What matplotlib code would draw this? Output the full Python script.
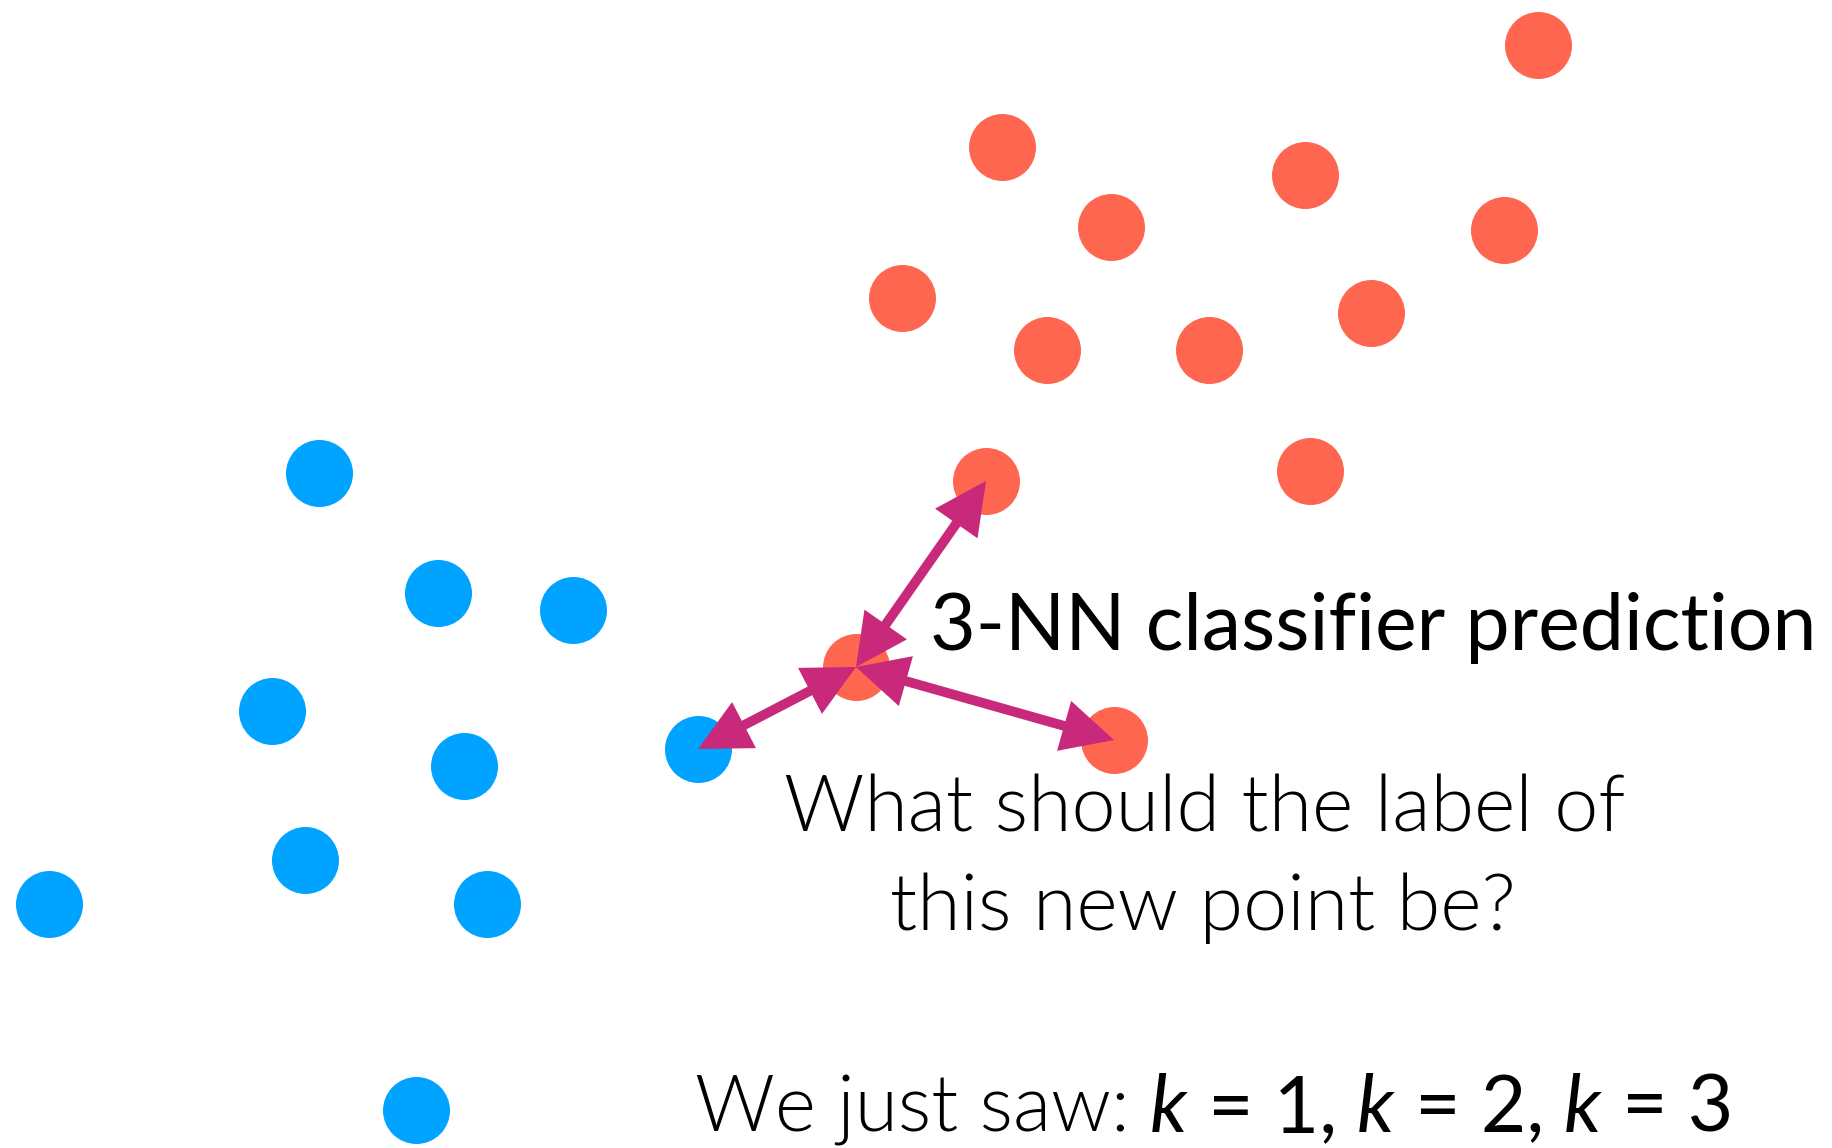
import matplotlib
matplotlib.use("Agg")
import matplotlib.pyplot as plt
from matplotlib.patches import FancyArrowPatch

# point positions (pixel space of the original slide)
red_x = [1538, 1002, 1305, 1111, 1504, 902, 1371, 1047, 1209, 986, 1310, 1114]
red_y = [45, 147, 175, 227, 230, 298, 313, 350, 350, 481, 471, 740]
blue_x = [319, 438, 573, 272, 464, 698, 305, 49, 487, 416]
blue_y = [473, 593, 610, 711, 766, 749, 860, 904, 904, 1110]
new_x, new_y = 856, 667
# the three nearest neighbours of the new point
neighbours = [("red", 9), ("red", 11), ("blue", 5)]

title_text = "3-NN classifier prediction"
question_lines = ["What should the label of", "this new point be?"]
bottom_pieces = [("We just saw: ", 300, "normal"),
                 ("k", "normal", "italic"), (" = 1, ", "normal", "normal"),
                 ("k", "normal", "italic"), (" = 2, ", "normal", "normal"),
                 ("k", "normal", "italic"), (" = 3", "normal", "normal")]

RED = "#ff6650"
BLUE = "#00a3ff"
ARROW = "#c8297a"
FONT = "Lato"

W, H = 1833, 1148
fig = plt.figure(figsize=(W / 100, H / 100), dpi=100)
ax = fig.add_axes([0, 0, 1, 1])
ax.set_xlim(0, W)
ax.set_ylim(H, 0)
ax.axis("off")

size = (67 * 72 / 100) ** 2
ax.scatter(red_x, red_y, s=size, color=RED, linewidths=0, zorder=1)
ax.scatter(blue_x, blue_y, s=size, color=BLUE, linewidths=0, zorder=1)
ax.scatter([new_x], [new_y], s=size, color=RED, linewidths=0, zorder=2)

# heads are stroked too, so keep them a bit smaller than the visible size
for cls, i in neighbours:
    tx, ty = (red_x[i], red_y[i]) if cls == "red" else (blue_x[i], blue_y[i])
    arr = FancyArrowPatch((new_x, new_y), (tx, ty),
                          arrowstyle="<|-|>,head_length=26,head_width=13",
                          shrinkA=0, shrinkB=0, lw=7, color=ARROW,
                          joinstyle="miter", zorder=3)
    ax.add_patch(arr)

fig.canvas.draw()
renderer = fig.canvas.get_renderer()


def text_width(t):
    return t.get_window_extent(renderer).width


def fit(t, target, base=50):
    w = text_width(t)
    t.set_fontsize(base * target / w)
    return base * target / w


# title
t = ax.text(930, 650, title_text, fontsize=50, family=FONT,
            ha="left", va="baseline", zorder=4)
fit(t, 886)

# question
q1 = ax.text(1205, 831, question_lines[0], fontsize=50, family=FONT,
             fontweight=300, ha="center", va="baseline", zorder=4)
fs = fit(q1, 842)
ax.text(1203, 930, question_lines[1], fontsize=fs, family=FONT,
        fontweight=300, ha="center", va="baseline", zorder=4)


# bottom line built from pieces of different styles
def piece_width(s, fsize, weight, style):
    bar = ax.text(0, 0, "|", fontsize=fsize, family=FONT)
    probe = ax.text(0, 0, s + "|", fontsize=fsize, family=FONT,
                    fontweight=weight, fontstyle=style)
    w = text_width(probe) - text_width(bar)
    bar.remove()
    probe.remove()
    return w


base = 50
total = sum(piece_width(s, base, wt, st) for s, wt, st in bottom_pieces)
fsb = base * 1040 / total
x = 695
for s, wt, st in bottom_pieces:
    ax.text(x, 1132, s, fontsize=fsb, family=FONT, fontweight=wt,
            fontstyle=st, ha="left", va="baseline", zorder=4)
    x += piece_width(s, fsb, wt, st) * W / fig.bbox.width

fig.savefig("out.png", dpi=100, facecolor="white")
